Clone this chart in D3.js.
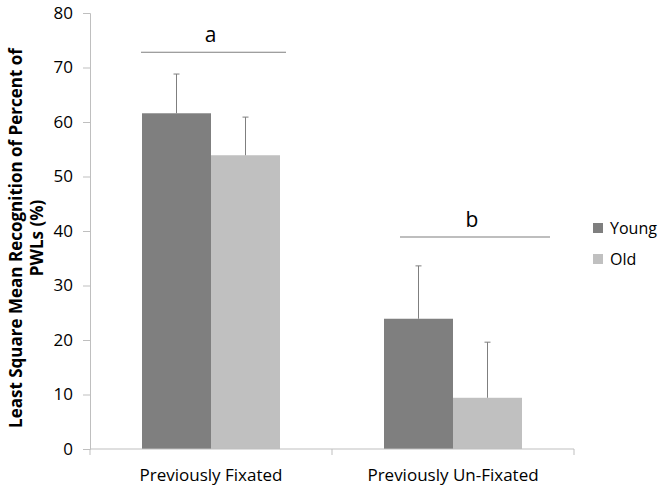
<!DOCTYPE html>
<html lang="en">
<head>
<meta charset="utf-8">
<title>PWL recognition</title>
<script src="https://cdn.jsdelivr.net/npm/d3@7"></script>
<style>
  body { margin: 0; background: #fff; }
  text { font-family: "Open Sans", "Liberation Sans", sans-serif; fill: #000; }
</style>
</head>
<body>
<script>
var categories = ["Previously Fixated", "Previously Un-Fixated"];
var groups = ["Young", "Old"];
var means = [[61.6, 53.9], [23.9, 9.4]];
var errors = [[7.2, 7.0], [9.7, 10.2]];
var yTicks = [0, 10, 20, 30, 40, 50, 60, 70, 80];
var sigLetters = ["a", "b"];
var sigLevels = [72.8, 38.9];
var colors = ["#7f7f7f", "#c0c0c0"];

var width = 666, height = 491;
var mLeft = 90, mRight = 574, mTop = 13, mBottom = 449;

var svg = d3.select("body").append("svg")
    .attr("width", width)
    .attr("height", height);

var x = d3.scaleBand().domain(categories).range([mLeft, mRight]);
var xg = d3.scaleBand().domain(groups).range([0, 138]);
var y = d3.scaleLinear().domain([0, 80]).range([mBottom, mTop]);

// y axis
var yAxis = svg.append("g")
    .attr("transform", "translate(" + mLeft + ",0)")
    .call(d3.axisLeft(y).tickValues(yTicks).tickSize(7).tickPadding(10));
yAxis.select(".domain").attr("stroke", "#bfbfbf");
yAxis.selectAll(".tick line").attr("stroke", "#bfbfbf");
yAxis.selectAll(".tick text")
    .style("font-size", "17px")
    .style("font-family", "'Open Sans', sans-serif")
    .attr("fill", "#000");

// bars
var cat = svg.selectAll("g.cat").data(categories).enter()
    .append("g")
    .attr("class", "cat")
    .attr("transform", function(d) { return "translate(" + (x(d) + (x.bandwidth() - 138) / 2) + ",0)"; });

cat.selectAll("rect").data(function(d, i) { return means[i]; }).enter()
    .append("rect")
    .attr("x", function(d, j) { return xg(groups[j]); })
    .attr("width", xg.bandwidth())
    .attr("y", function(d) { return y(d); })
    .attr("height", function(d) { return mBottom - y(d); })
    .attr("fill", function(d, j) { return colors[j]; });

// error bars (upper only)
cat.each(function(c, i) {
    var g = d3.select(this);
    means[i].forEach(function(m, j) {
        var cx = xg(groups[j]) + xg.bandwidth() / 2;
        var ey = y(m + errors[i][j]);
        g.append("line")
            .attr("x1", cx).attr("x2", cx)
            .attr("y1", y(m)).attr("y2", ey)
            .attr("stroke", "#7f7f7f").attr("stroke-width", 1);
        g.append("line")
            .attr("x1", cx - 3).attr("x2", cx + 3)
            .attr("y1", ey).attr("y2", ey)
            .attr("stroke", "#7f7f7f").attr("stroke-width", 1);
    });
});

// x axis
var xAxis = svg.append("g")
    .attr("transform", "translate(0," + mBottom + ")");
xAxis.append("line")
    .attr("x1", mLeft).attr("x2", mRight)
    .attr("stroke", "#bfbfbf");
xAxis.selectAll("line.tick").data([mLeft, x(categories[1]), mRight]).enter()
    .append("line")
    .attr("class", "tick")
    .attr("x1", function(d) { return d; }).attr("x2", function(d) { return d; })
    .attr("y1", 0).attr("y2", 6)
    .attr("stroke", "#bfbfbf");
xAxis.selectAll("text").data(categories).enter()
    .append("text")
    .attr("x", function(d) { return x(d) + x.bandwidth() / 2; })
    .attr("y", 32)
    .attr("text-anchor", "middle")
    .style("font-size", "17px")
    .text(function(d) { return d; });

// significance lines
var sigX = [[141, 286], [400, 550]];
sigLetters.forEach(function(l, i) {
    var ly = y(sigLevels[i]);
    svg.append("line")
        .attr("x1", sigX[i][0]).attr("x2", sigX[i][1])
        .attr("y1", ly).attr("y2", ly)
        .attr("stroke", "#7f7f7f").attr("stroke-width", 1.2);
    svg.append("text")
        .attr("x", (sigX[i][0] + sigX[i][1]) / 2 - 3)
        .attr("y", ly - 10)
        .attr("text-anchor", "middle")
        .style("font-size", "21px")
        .text(l);
});

// y title
var title = svg.append("text")
    .attr("transform", "translate(22,238) rotate(-90)")
    .attr("text-anchor", "middle")
    .style("font-size", "17px")
    .style("font-weight", "bold");
title.append("tspan").attr("x", 0).attr("dy", 0).text("Least Square Mean Recognition of Percent of");
title.append("tspan").attr("x", 0).attr("dy", 21).text("PWLs (%)");

// legend
var legend = svg.selectAll("g.legend").data(groups).enter()
    .append("g")
    .attr("class", "legend")
    .attr("transform", function(d, i) { return "translate(593," + (223 + i * 31) + ")"; });
legend.append("rect")
    .attr("width", 10).attr("height", 10)
    .attr("fill", function(d, i) { return colors[i]; });
legend.append("text")
    .attr("x", 17).attr("y", 11)
    .style("font-size", "16px")
    .text(function(d) { return d; });
</script>
</body>
</html>
